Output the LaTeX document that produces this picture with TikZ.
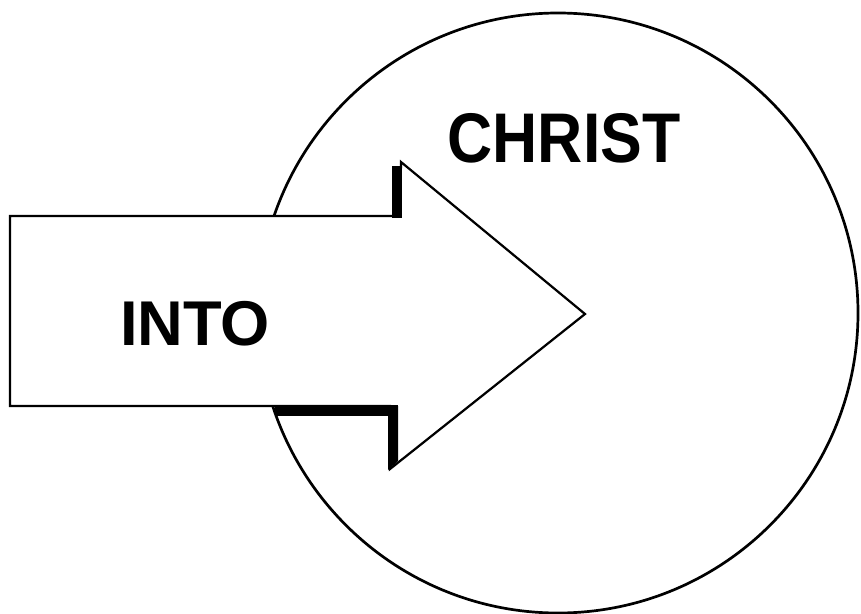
\documentclass[tikz,border=0pt]{standalone}
\usepackage{fontspec}
\setmainfont{Liberation Sans}
\begin{document}
\begin{tikzpicture}[x=0.03cm, y=-0.03cm,
    outline/.style={line width=1.9pt, line join=miter},
    word/.style={font=\fontsize{54}{60}\selectfont\bfseries, inner sep=0pt, anchor=base}]
  \useasboundingbox (0,0) rectangle (861,614);

  % the circle
  \draw[line width=2.3pt] (558,313) circle [radius=300];
  \node[word, font=\fontsize{60}{66}\selectfont\bfseries, xscale=0.89] (christ) at (564,162) {CHRIST};

  % the arrow, with its shadow
  \draw[outline, fill=white] (10,216) coordinate (tail top) -- (400,216) coordinate (notch top)
    -- (401,162) coordinate (head top) -- (585,314) coordinate (tip)
    -- (390,469) coordinate (head bottom) -- (390,406) coordinate (notch bottom)
    -- (10,406) coordinate (tail bottom) -- cycle;
  \fill (392,166) rectangle (402,218);
  \fill (275,405) rectangle (398,416);
  \fill (388,406) -- (398,406) -- (398,461) -- (388,470) -- cycle;
  \node[word] (into) at (195,345) {INTO};
\end{tikzpicture}
\end{document}
